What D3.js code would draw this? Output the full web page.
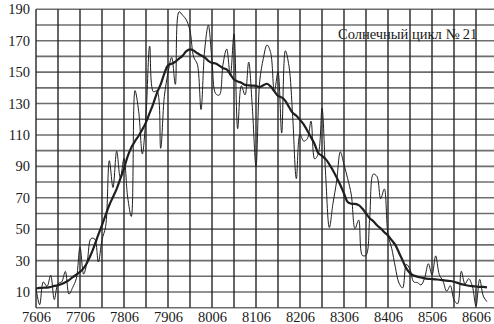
<!DOCTYPE html>
<html>
<head>
<meta charset="utf-8">
<script src="https://cdn.jsdelivr.net/npm/d3@7"></script>
<style>
  html, body { margin: 0; padding: 0; background: #fff; }
  svg { display: block; }
  text { font-family: "Liberation Serif", "Times New Roman", serif; fill: #1a1a1a; }
</style>
</head>
<body>
<svg id="chart" width="494" height="324"></svg>
<script>
// Solar cycle 21: monthly mean sunspot numbers, June 1976 to September 1986
const monthly = [
  12.2, 1.9, 16.4, 13.5, 20.6, 5.2, 15.3,
  16.4, 23.1, 8.7, 12.9, 18.6, 38.5, 21.4, 30.1, 44.0, 43.8, 29.1, 43.2,
  51.9, 93.6, 76.5, 99.7, 82.7, 95.1, 70.4, 58.1, 138.2, 125.1, 97.9, 122.7,
  166.6, 137.5, 138.0, 101.5, 134.4, 149.5, 159.4, 142.2, 188.4, 186.2, 183.3, 176.3,
  159.6, 155.0, 126.2, 164.1, 179.9, 157.3, 136.3, 135.4, 155.0, 164.7, 147.9, 174.4,
  114.0, 141.3, 135.5, 156.4, 127.5, 90.0, 143.8, 158.7, 167.3, 162.4, 137.5, 150.1,
  111.2, 163.6, 153.8, 122.0, 82.2, 110.4, 106.1, 107.6, 118.8, 94.7, 98.1, 127.0,
  84.3, 51.0, 66.5, 80.7, 99.2, 91.1, 82.2, 71.8, 50.3, 55.8, 33.3, 33.4,
  57.0, 85.1, 83.5, 69.4, 75.6, 46.4, 37.9, 25.8, 15.7, 12.6, 27.6, 24.4,
  16.5, 16.0, 14.5, 19.0, 28.0, 21.0, 33.0, 21.0, 17.0, 10.5, 14.0, 5.0,
  2.5, 23.2, 15.1, 18.5, 13.7, 1.1, 18.1, 7.4, 3.8
];

// 13-month smoothed sunspot numbers over the same months
const smoothed = [
  12.2, 12.6, 12.7, 12.8, 13.2, 13.9, 14.3,
  15.1, 16.2, 17.6, 19.4, 21.0, 22.8, 25.2, 29.0, 34.0, 40.0, 46.5, 52.6,
  59.1, 65.4, 70.5, 75.7, 82.2, 88.7, 96.4, 102.0, 106.0, 109.5, 113.5, 118.0,
  124.0, 130.0, 136.8, 142.2, 149.1, 154.3, 155.4, 156.6, 158.6, 160.5, 163.3, 164.5,
  163.7, 162.0, 160.7, 159.4, 157.2, 155.9, 155.5, 154.1, 152.5, 151.7, 148.6, 145.3,
  144.0, 143.2, 141.9, 141.6, 141.4, 141.2, 140.5, 141.6, 142.6, 140.8, 137.8, 134.9,
  133.9, 131.7, 127.8, 124.1, 122.2, 119.6, 116.8, 112.7, 108.6, 104.1, 98.4, 96.7,
  94.6, 91.3, 87.4, 82.9, 78.1, 72.7, 67.3, 66.2, 66.1, 65.3, 63.1, 60.0,
  57.0, 55.0, 52.5, 50.5, 48.0, 46.0, 43.0, 40.0, 35.0, 30.0, 25.0, 22.0,
  20.5, 19.8, 19.2, 18.7, 18.4, 18.2, 18.0, 17.8, 17.5, 17.2, 17.0, 16.5,
  15.8, 15.0, 14.5, 14.0, 13.7, 13.5, 13.3, 13.2, 13.0
];

// Year labels (YYMM), one per June
const xTickLabels = ["7606", "7706", "7806", "7906", "8006", "8106", "8206", "8306", "8406", "8506", "8606"];
const yTickLabels = [10, 30, 50, 70, 90, 110, 130, 150, 170, 190];
const title = "Солнечный цикл № 21";

const svg = d3.select("#chart");
const W = 494;

// month index 0 = June 1976; 120 = June 1986
const x = d3.scaleLinear().domain([0, 120]).range([36, 476]);
const y = d3.scaleLinear().domain([0, 190]).range([307.7, 9.3]);

// horizontal grid every 10 units
const grid = svg.append("g");
grid.selectAll("line.h")
  .data(d3.range(0, 191, 10))
  .join("line")
  .attr("class", "h")
  .attr("x1", x(0)).attr("x2", W)
  .attr("y1", d => y(d)).attr("y2", d => y(d))
  .attr("stroke", "#6e6e6e")
  .attr("stroke-width", 1.6);

// vertical grid every six months
grid.selectAll("line.v")
  .data(d3.range(0, 121, 6))
  .join("line")
  .attr("class", "v")
  .attr("x1", d => x(d)).attr("x2", d => x(d))
  .attr("y1", y(190)).attr("y2", y(0))
  .attr("stroke", "#262626")
  .attr("stroke-width", 1.4);

// axis labels
const yAxis = d3.axisLeft(y)
  .tickValues(yTickLabels)
  .tickSize(0)
  .tickPadding(6);
svg.append("g")
  .attr("transform", `translate(${x(0)},0)`)
  .call(yAxis)
  .call(g => g.select(".domain").remove())
  .call(g => g.selectAll("text")
    .attr("font-family", "Liberation Serif")
    .attr("font-size", 14.5)
    .attr("fill", "#1a1a1a"));

const xAxis = d3.axisBottom(x)
  .tickValues(d3.range(0, 121, 12))
  .tickFormat((d, i) => xTickLabels[i])
  .tickSize(0)
  .tickPadding(4);
svg.append("g")
  .attr("transform", `translate(0,${y(0)})`)
  .call(xAxis)
  .call(g => g.select(".domain").remove())
  .call(g => g.selectAll("text")
    .attr("font-family", "Liberation Serif")
    .attr("font-size", 14.5)
    .attr("fill", "#1a1a1a"));

// series
svg.append("clipPath").attr("id", "plot")
  .append("rect")
  .attr("x", x(0)).attr("y", y(190) - 1)
  .attr("width", W - x(0)).attr("height", y(0) - y(190) + 1);

const line = d3.line()
  .x((d, i) => x(i))
  .y(d => y(d))
  .curve(d3.curveCatmullRom.alpha(0.5));

const plot = svg.append("g").attr("clip-path", "url(#plot)");

plot.append("path")
  .datum(monthly)
  .attr("d", line)
  .attr("fill", "none")
  .attr("stroke", "#1f1f1f")
  .attr("stroke-width", 1);

plot.append("path")
  .datum(smoothed)
  .attr("d", line)
  .attr("fill", "none")
  .attr("stroke", "#1f1f1f")
  .attr("stroke-width", 2.2)
  .attr("stroke-linejoin", "round");

svg.append("text")
  .attr("x", 338)
  .attr("y", 39)
  .attr("font-size", 14.5)
  .text(title);
</script>
</body>
</html>
